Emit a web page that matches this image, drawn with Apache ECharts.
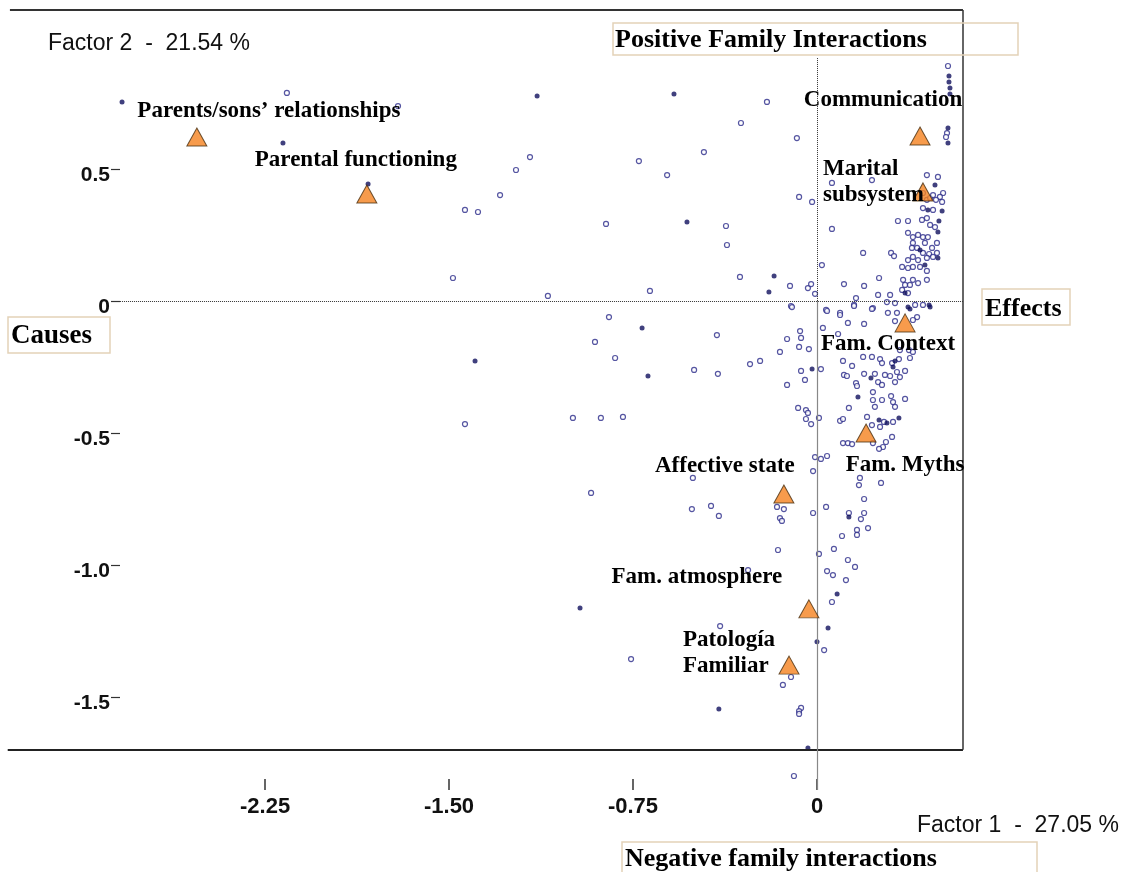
<!DOCTYPE html>
<html>
<head>
<meta charset="utf-8">
<script src="https://cdn.jsdelivr.net/npm/echarts@6/dist/echarts.min.js"></script>
<style>
html,body{margin:0;padding:0;background:#fff}
#chart{width:1126px;height:872px}
</style>
</head>
<body>
<div id="chart"></div>
<script>
// Factor 1 / Factor 2 coordinates of the individual responses (open circles)
const hollowPoints = [
  [-2.161,0.788],[-1.708,0.738],[-1.170,0.545],[-1.227,0.496],[-1.292,0.401],[-1.382,0.337],[-1.435,0.345],
  [-1.484,0.087],[-1.097,0.019],[-1.435,-0.466],[-0.995,-0.443],[-0.905,-0.155],[-0.848,-0.061],[-0.823,-0.216],
  [-0.881,-0.443],[-0.791,-0.439],[-0.921,-0.727],[-0.860,0.292],[-0.726,0.530],[-0.681,0.038],[-0.611,0.477],
  [-0.461,0.564],[-0.310,0.674],[-0.204,0.754],[-0.082,0.617],[-0.073,0.394],[-0.020,0.375],[-0.371,0.284],
  [-0.367,0.212],[-0.314,0.091],[-0.110,0.057],[-0.037,0.049],[-0.024,0.064],[-0.008,0.027],[-0.106,-0.019],
  [-0.408,-0.129],[-0.501,-0.261],[-0.404,-0.276],[-0.273,-0.239],[-0.232,-0.227],[-0.151,-0.193],[-0.122,-0.144],
  [-0.069,-0.114],[-0.065,-0.140],[-0.033,-0.182],[-0.073,-0.174],[-0.102,-0.023],[-0.065,-0.265],[0.016,-0.258],
  [-0.049,-0.299],[-0.122,-0.318],[-0.077,-0.405],[-0.045,-0.413],[-0.037,-0.424],[-0.045,-0.447],[-0.024,-0.466],
  [0.008,-0.443],[-0.008,-0.591],[0.016,-0.598],[0.041,-0.587],[-0.016,-0.644],[-0.506,-0.670],[-0.163,-0.780],
  [-0.135,-0.788],[-0.510,-0.788],[-0.432,-0.776],[-0.400,-0.814],[-0.151,-0.822],[-0.143,-0.833],[-0.016,-0.803],
  [0.037,-0.780],[-0.159,-0.943],[0.008,-0.958],[0.069,-0.939],[0.175,-0.670],[0.171,-0.697],[0.192,-0.750],
  [0.261,-0.689],[0.192,-0.803],[0.179,-0.826],[0.130,-0.803],[0.208,-0.860],[0.163,-0.867],[0.163,-0.886],
  [0.102,-0.890],[0.126,-0.981],[0.155,-1.007],[0.041,-1.023],[0.065,-1.038],[0.118,-1.057],[-0.281,-1.019],
  [0.061,-1.140],[-0.395,-1.231],[0.029,-1.322],[-0.758,-1.356],[-0.106,-1.424],[-0.139,-1.454],[-0.065,-1.541],
  [-0.073,-1.553],[-0.073,-1.564],[-0.094,-1.799],
  [0.061,0.447],[0.224,0.458],[0.061,0.273],[0.188,0.182],[0.020,0.136],[0.110,0.064],[0.192,0.057],
  [0.159,0.011],[0.151,-0.015],[0.037,-0.034],[0.094,-0.045],[0.228,-0.027],[0.249,0.023],[0.298,0.023],
  [0.285,-0.004],[0.289,-0.045],[0.326,-0.045],[0.302,0.182],[0.314,0.170],[0.330,0.303],[0.371,0.303],
  [0.253,0.087],[0.448,0.477],[0.493,0.470],[0.514,0.409],[0.501,0.394],[0.510,0.375],[0.534,0.890],
  [0.530,0.636],[0.526,0.621],
  [0.432,0.409],[0.448,0.383],[0.461,0.390],[0.473,0.401],[0.485,0.383],[0.432,0.352],[0.473,0.345],
  [0.428,0.307],[0.448,0.314],[0.461,0.288],[0.481,0.280],[0.371,0.258],[0.391,0.242],[0.412,0.250],
  [0.432,0.242],[0.452,0.242],[0.391,0.220],[0.440,0.220],[0.489,0.220],[0.469,0.201],[0.387,0.201],
  [0.408,0.201],[0.432,0.182],[0.457,0.178],[0.489,0.182],[0.371,0.155],[0.391,0.167],[0.412,0.155],
  [0.448,0.163],[0.473,0.167],[0.347,0.129],[0.371,0.125],[0.391,0.129],[0.420,0.129],[0.448,0.114],
  [0.351,0.080],[0.359,0.061],[0.379,0.061],[0.391,0.080],[0.412,0.068],[0.448,0.080],[0.347,0.042],
  [0.371,0.030],[0.400,-0.015],[0.432,-0.015],
  [0.041,-0.038],[0.094,-0.053],[0.151,-0.019],[0.224,-0.030],[0.318,-0.008],[0.408,-0.061],[0.391,-0.072],
  [0.318,-0.076],[0.126,-0.083],[0.192,-0.087],[0.024,-0.102],[0.086,-0.125],[0.338,-0.186],[0.375,-0.186],
  [0.106,-0.227],[0.143,-0.246],[0.188,-0.212],[0.224,-0.212],[0.257,-0.220],[0.265,-0.235],[0.306,-0.235],
  [0.334,-0.220],[0.379,-0.216],[0.391,-0.193],[0.110,-0.280],[0.122,-0.284],[0.159,-0.311],[0.163,-0.322],
  [0.192,-0.276],[0.236,-0.276],[0.249,-0.307],[0.265,-0.318],[0.277,-0.280],[0.298,-0.284],[0.326,-0.269],
  [0.338,-0.288],[0.359,-0.265],[0.318,-0.307],[0.228,-0.345],[0.228,-0.375],[0.236,-0.401],[0.265,-0.375],
  [0.302,-0.360],[0.310,-0.383],[0.318,-0.401],[0.359,-0.371],[0.130,-0.405],[0.204,-0.439],[0.224,-0.470],
  [0.257,-0.477],[0.273,-0.458],[0.310,-0.458],[0.306,-0.515],[0.281,-0.534],[0.269,-0.553],[0.253,-0.560],
  [0.228,-0.538],[0.106,-0.538],[0.126,-0.538],[0.143,-0.542],[0.094,-0.454],[0.106,-0.447]
];

// Responses drawn as solid dots
const filledPoints = [
  [-2.833,0.754],[-2.177,0.598],[-1.141,0.776],[-0.583,0.784],[-1.830,0.443],[-1.394,-0.227],[-0.713,-0.102],
  [-0.689,-0.284],[-0.966,-1.163],[-0.400,-1.545],[-0.175,0.095],[-0.196,0.034],[-0.530,0.299],[-0.037,-1.693],
  [-0.020,-0.258],[0.082,-1.110],[0.045,-1.238],[0.000,-1.291],[0.130,-0.818],[0.167,-0.364],[0.220,-0.292],
  [0.318,-0.227],[0.310,-0.250],[0.334,-0.443],[0.253,-0.451],[0.285,-0.462],[0.461,-0.023],[0.379,-0.030],
  [0.510,0.341],[0.497,0.303],[0.493,0.261],[0.493,0.163],[0.440,0.136],[0.359,0.030],[0.371,-0.023],
  [0.457,-0.015],[0.538,0.852],[0.538,0.829],[0.542,0.807],[0.542,0.784],[0.534,0.655],[0.534,0.598],
  [0.452,0.345],[0.420,0.193],[0.481,0.439]
];

// Active categories (triangles)
const categoryNames = [
  "Parents/sons\u2019 relationships", "Parental functioning", "Communication", "Marital\nsubsystem",
  "Fam. Context", "Fam. Myths", "Affective state", "Fam. atmosphere", "Patolog\u00eda\nFamiliar"
];
const categoryX = [-2.528, -1.835, 0.420, 0.432, 0.359, 0.200, -0.135, -0.033, -0.114];
const categoryY = [0.621, 0.405, 0.625, 0.413, -0.083, -0.500, -0.731, -1.166, -1.379];

// Tick values and their printed labels
const xTicks = [-2.25, -1.5, -0.75, 0];
const xTickLabels = ["-2.25", "-1.50", "-0.75", "0"];
const yTicks = [0.5, 0, -0.5, -1.0, -1.5];
const yTickLabels = ["0.5", "0", "-0.5", "-1.0", "-1.5"];

// Where each category name sits relative to its triangle (shift of the text box)
const labelShift = [
  [72, -26], [-11, -34], [-37, -36], [-100, -10], [-17, 21],
  [39, 32], [-59, -28], [-112, -32], [-106, -12]
];
const labelAlign = ['center', 'center', 'center', 'left', 'center', 'center', 'center', 'center', 'left'];

const X_MIN = -3.306, X_MAX = 0.6074, Y_MIN = -1.852, Y_MAX = 1.1096;
const FRAME = {left: -3.299, topStart: -3.290, right: 0.595, top: 1.102, bottom: -1.700};

const chart = echarts.init(document.getElementById('chart'), null, {renderer: 'canvas'});

const serifBold = '"Liberation Serif", "Times New Roman", serif';
const sans = '"Liberation Sans", Arial, sans-serif';

const triangleData = categoryNames.map((name, i) => ({
  name: name,
  value: [categoryX[i], categoryY[i]],
  label: {align: labelAlign[i], color: '#000', textBorderWidth: 0, opacity: 1}
}));

const option = {
  animation: false,
  backgroundColor: '#ffffff',
  grid: {left: 6, right: 160, top: 8, bottom: 82, containLabel: false},
  xAxis: {
    type: 'value', min: X_MIN, max: X_MAX, position: 'bottom',
    axisLine: {show: false, onZero: false}, splitLine: {show: false},
    axisTick: {show: true, inside: true, length: 11, customValues: xTicks, lineStyle: {color: '#333', width: 1.5}},
    axisLabel: {
      customValues: xTicks, margin: 6,
      formatter: v => xTickLabels[xTicks.findIndex(t => Math.abs(t - v) < 1e-9)],
      fontFamily: sans, fontWeight: 'bold', fontSize: 22, color: '#111'
    }
  },
  yAxis: {
    type: 'value', min: Y_MIN, max: Y_MAX, position: 'left', offset: -114,
    axisLine: {show: false, onZero: false}, splitLine: {show: false},
    axisTick: {show: true, length: 9, customValues: yTicks, lineStyle: {color: '#333', width: 1.2}},
    axisLabel: {
      customValues: yTicks, margin: 10, verticalAlign: 'top', lineHeight: 13,
      formatter: v => yTickLabels[yTicks.findIndex(t => Math.abs(t - v) < 1e-9)],
      fontFamily: sans, fontWeight: 'bold', fontSize: 21, color: '#111'
    }
  },
  series: [
    {
      type: 'scatter', name: 'responses', data: hollowPoints,
      symbol: 'circle', symbolSize: 5,
      itemStyle: {color: '#ffffff', borderColor: '#2a2a8a', borderWidth: 1.2},
      silent: true,
      markLine: {
        silent: true, symbol: ['none', 'none'], label: {show: false}, animation: false,
        data: [
          [{coord: [FRAME.topStart, FRAME.top], lineStyle: {color: '#333', width: 2, type: 'solid'}}, {coord: [FRAME.right, FRAME.top]}],
          [{coord: [FRAME.right, FRAME.top], lineStyle: {color: '#333', width: 1.5, type: 'solid'}}, {coord: [FRAME.right, FRAME.bottom]}],
          [{coord: [FRAME.left, FRAME.bottom], lineStyle: {color: '#222', width: 2, type: 'solid'}}, {coord: [FRAME.right, FRAME.bottom]}],
          [{coord: [-2.841, 0], lineStyle: {color: '#333', width: 1, type: 'dotted'}}, {coord: [FRAME.right, 0]}],
          [{coord: [0, 0.92], lineStyle: {color: '#333', width: 1, type: 'dotted'}}, {coord: [0, 0]}],
          [{coord: [0, 0], lineStyle: {color: '#888', width: 1.2, type: 'solid'}}, {coord: [0, Y_MIN]}]
        ]
      }
    },
    {
      type: 'scatter', name: 'responses (solid)', data: filledPoints,
      symbol: 'circle', symbolSize: 5,
      itemStyle: {color: '#10105e'}, silent: true
    },
    {
      type: 'scatter', name: 'categories', data: triangleData,
      symbol: 'triangle', symbolSize: [20, 18], z: 5,
      itemStyle: {color: '#F5821F', borderColor: '#4a3010', borderWidth: 1},
      label: {
        show: true, position: 'inside', formatter: '{b}',
        fontFamily: serifBold, fontWeight: 'bold', fontSize: 23, color: '#000', lineHeight: 26
      },
      labelLayout: params => ({
        dx: labelShift[params.dataIndex][0],
        dy: labelShift[params.dataIndex][1],
        hideOverlap: false
      })
    }
  ],
  graphic: [
    {type: 'text', x: 48, y: 44, style: {text: 'Factor 2  -  21.54 %', font: '23px ' + sans, fill: '#111', verticalAlign: 'middle'}},
    {type: 'text', x: 917, y: 826, style: {text: 'Factor 1  -  27.05 %', font: '23px ' + sans, fill: '#111', verticalAlign: 'middle'}},
    {type: 'rect', shape: {x: 613, y: 23, width: 405, height: 32}, style: {fill: 'none', stroke: '#e3d2b8', lineWidth: 1.5}, z: 10},
    {type: 'text', x: 615, y: 40, z: 11, style: {text: 'Positive Family Interactions', font: 'bold 26px ' + serifBold, fill: '#000', verticalAlign: 'middle'}},
    {type: 'rect', shape: {x: 982, y: 289, width: 88, height: 36}, style: {fill: 'none', stroke: '#e3d2b8', lineWidth: 1.5}, z: 10},
    {type: 'text', x: 985, y: 309, z: 11, style: {text: 'Effects', font: 'bold 26px ' + serifBold, fill: '#000', verticalAlign: 'middle'}},
    {type: 'rect', shape: {x: 8, y: 317, width: 102, height: 36}, style: {fill: 'none', stroke: '#e3d2b8', lineWidth: 1.5}, z: 10},
    {type: 'text', x: 11, y: 336, z: 11, style: {text: 'Causes', font: 'bold 27px ' + serifBold, fill: '#000', verticalAlign: 'middle'}},
    {type: 'rect', shape: {x: 622, y: 842, width: 415, height: 34}, style: {fill: 'none', stroke: '#e3d2b8', lineWidth: 1.5}, z: 10},
    {type: 'text', x: 625, y: 859, z: 11, style: {text: 'Negative family interactions', font: 'bold 26px ' + serifBold, fill: '#000', verticalAlign: 'middle'}}
  ]
};

chart.setOption(option);
</script>
</body>
</html>
